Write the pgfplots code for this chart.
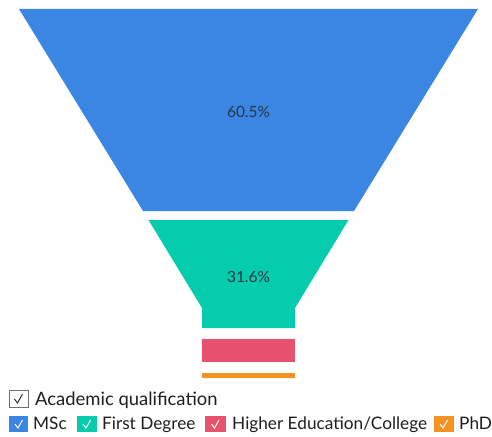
\documentclass[border=0pt]{standalone}
\usepackage{fontspec}
\setmainfont{Lato}
\usepackage{pgfplots}
\pgfplotsset{compat=1.18}
\definecolor{cBlue}{RGB}{58,134,226}
\definecolor{cTeal}{RGB}{6,204,174}
\definecolor{cRed}{RGB}{232,82,112}
\definecolor{cOrange}{RGB}{245,146,35}
\definecolor{cLab}{RGB}{40,55,72}
\definecolor{cTxt}{RGB}{30,30,30}
\definecolor{cBox}{RGB}{110,110,110}
\begin{document}
\begin{tikzpicture}
\begin{axis}[
  width=492bp, height=437bp, scale only axis,
  xmin=0, xmax=492, ymin=0, ymax=437, y dir=reverse,
  axis lines=none, clip=false,
]
% Funnel stages (values: MSc 60.5%, First Degree 31.6%, Higher Education/College 6.5%, PhD 1.4%)
\addplot[fill=cBlue, draw=none] coordinates {(19,9) (478,9) (354,211) (143,211)};
\addplot[fill=cTeal, draw=none] coordinates {(148.5,220) (348.5,220) (295,308) (295,328) (202,328) (202,308)};
\addplot[fill=cRed, draw=none] coordinates {(202,339) (295,339) (295,362) (202,362)};
\addplot[fill=cOrange, draw=none] coordinates {(202,373) (295,373) (295,377.5) (202,377.5)};
\node[text=cLab, font=\fontsize{15.5}{18}\selectfont] at (axis cs:248.5,112) {60.5\%};
\node[text=cLab, font=\fontsize{15.5}{18}\selectfont] at (axis cs:248.5,277) {31.6\%};
% legend
\draw[cBox, line width=0.9bp, fill=white] (axis cs:9.5,390) rectangle (axis cs:28,407.5);
\draw[cTxt, line width=0.9bp] (axis cs:14.5,399) -- (axis cs:17.5,403) -- (axis cs:22.5,394);
\node[anchor=base west, text=cTxt, font=\fontsize{18.5}{21}\selectfont, inner sep=0pt] at (axis cs:35,405.5) {Academic qualification};
\foreach \xa/\xb/\cc in {9/28/cBlue, 77/97/cTeal, 205/226/cRed, 434/454/cOrange}{
  \edef\temp{\noexpand\fill[\cc] (axis cs:\xa,416) rectangle (axis cs:\xb,432);}\temp
}
\draw[white, line width=1bp] (axis cs:15,424) -- (axis cs:18,428) -- (axis cs:22.5,420);
\draw[white, line width=1bp] (axis cs:83,424) -- (axis cs:86,428) -- (axis cs:90.5,420);
\draw[white, line width=1bp] (axis cs:211.5,424) -- (axis cs:214.5,428) -- (axis cs:219,420);
\draw[white, line width=1bp] (axis cs:440,424) -- (axis cs:443,428) -- (axis cs:447.5,420);
\node[anchor=base west, text=cTxt, font=\fontsize{17.3}{20}\selectfont, inner sep=0pt] at (axis cs:33,429.5) {MSc};
\node[anchor=base west, text=cTxt, font=\fontsize{17.3}{20}\selectfont, inner sep=0pt] at (axis cs:102,429.5) {First Degree};
\node[anchor=base west, text=cTxt, font=\fontsize{17.3}{20}\selectfont, inner sep=0pt] at (axis cs:232,429.5) {Higher Education/College};
\node[anchor=base west, text=cTxt, font=\fontsize{17.3}{20}\selectfont, inner sep=0pt] at (axis cs:459,429.5) {PhD};
\end{axis}
\pgfresetboundingbox
\path (current axis.south west) rectangle (current axis.north east);
\end{tikzpicture}
\end{document}
